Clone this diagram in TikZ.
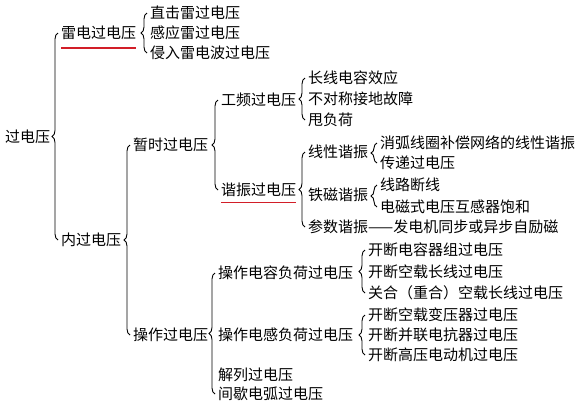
\documentclass[tikz,border=0pt]{standalone}
\usepackage{fontspec}
\setmainfont{Noto Sans CJK SC}
\usetikzlibrary{decorations.pathreplacing}
\definecolor{ulred}{RGB}{210,30,40}

\begin{document}
\begin{tikzpicture}[x=1pt,y=-1pt,
    txt/.style={anchor=west,inner sep=0pt,font=\fontsize{15}{15}\selectfont},
    brc/.style={decorate,decoration={brace,amplitude=6pt},line width=0.9pt}]
\useasboundingbox (0,0) rectangle (587,413);

% Main branches
\node[txt] (gdy) at (5,137) {过电压};
\node[txt] (ld) at (61,33) {雷电过电压};
\node[txt] (nb) at (61,240) {内过电压};
\node[txt] (zs) at (133,145) {暂时过电压};
\node[txt] (cz) at (133,335) {操作过电压};
\node[txt] (gp) at (221,100) {工频过电压};
\node[txt] (xz) at (221,190) {谐振过电压};
\node[txt] (xx) at (308,152) {线性谐振};
\node[txt] (tc) at (308,195) {铁磁谐振};
\node[txt] (cs) at (308,227) {参数谐振——发电机同步或异步自励磁};
\node[txt] (dr) at (218,273) {操作电容负荷过电压};
\node[txt] (dg) at (218,335) {操作电感负荷过电压};
\node[txt] (jl) at (218,375) {解列过电压};
\node[txt] (jx) at (218,394) {间歇电弧过电压};

% Leaves
\foreach \n/\x/\y/\t in {ld1/150/13/直击雷过电压, ld2/150/33/感应雷过电压,
    ld3/150/53/侵入雷电波过电压, gp1/308/78/长线电容效应,
    gp2/308/99/不对称接地故障, gp3/308/120/甩负荷,
    xx1/380/143/消弧线圈补偿网络的线性谐振, xx2/380/163/传递过电压,
    tc1/380/185/线路断线, tc2/380/207/电磁式电压互感器饱和,
    dr1/368/250/开断电容器组过电压, dr2/368/272/开断空载长线过电压,
    dr3/368/293/关合（重合）空载长线过电压, dg1/368/315/开断空载变压器过电压,
    dg2/368/335/开断并联电抗器过电压, dg3/368/355/开断高压电动机过电压}
    \node[txt] (\n) at (\x,\y) {\t};

% Braces
\foreach \a/\b in {nb/ld, ld3/ld1, cz/zs, xz/gp, gp3/gp1, cs/xx,
    xx2/xx1, tc2/tc1, jx/dr, dr3/dr1, dg3/dg1}
    \draw[brc] ([xshift=-3pt]\a.west) -- ([xshift=-3pt]\b.west);

% Underlines
\draw[ulred, line width=1.3pt] ([yshift=-8pt]ld.south west) -- ([yshift=-8pt]ld.south east);
\draw[ulred, line width=1.3pt] ([yshift=-5.5pt]xz.south west) -- ([yshift=-5.5pt]xz.south east);
\end{tikzpicture}
\end{document}
